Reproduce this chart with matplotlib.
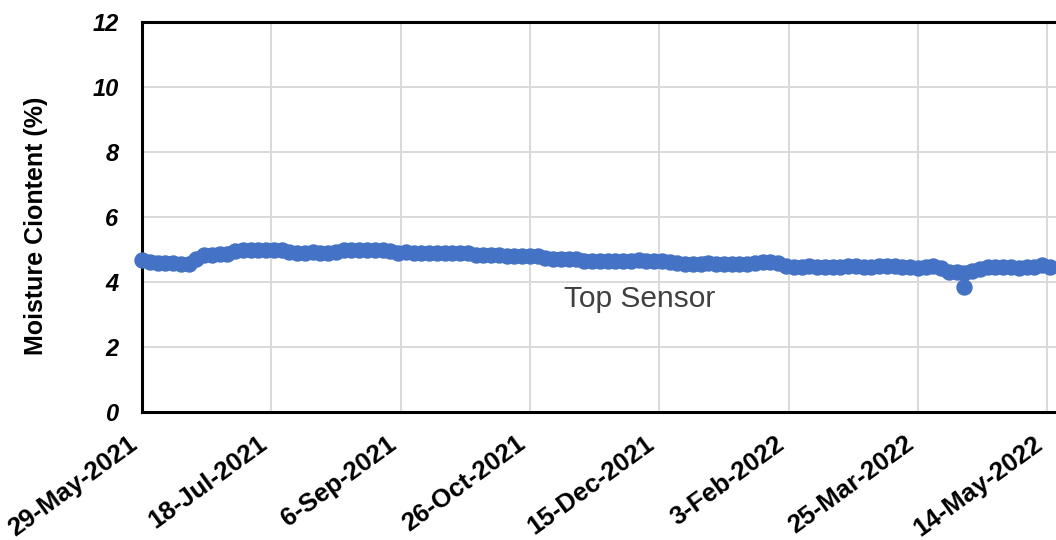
import matplotlib
matplotlib.use("Agg")
import matplotlib.pyplot as plt
import pandas as pd

plt.rcParams['font.family'] = ['Liberation Sans', 'DejaVu Sans']

# ---- data ----
start_date = "2021-05-29"
sample_step_days = 3
moisture = [
    4.68, 4.62, 4.60, 4.60, 4.58, 4.55, 4.55, 4.70, 4.82, 4.84,
    4.86, 4.87, 4.95, 4.98, 4.98, 5.00, 4.99, 5.00, 4.98, 4.92,
    4.90, 4.90, 4.91, 4.90, 4.90, 4.92, 4.97, 4.98, 4.99, 4.98,
    4.97, 4.98, 4.96, 4.90, 4.91, 4.90, 4.90, 4.90, 4.89, 4.90,
    4.90, 4.89, 4.88, 4.84, 4.83, 4.83, 4.82, 4.81, 4.80, 4.80,
    4.79, 4.80, 4.74, 4.72, 4.72, 4.71, 4.72, 4.66, 4.65, 4.65,
    4.65, 4.66, 4.65, 4.66, 4.67, 4.66, 4.65, 4.66, 4.62, 4.58,
    4.56, 4.55, 4.56, 4.60, 4.55, 4.55, 4.54, 4.55, 4.56, 4.58,
    4.62, 4.63, 4.58, 4.48, 4.47, 4.45, 4.50, 4.46, 4.45, 4.47,
    4.45, 4.50, 4.48, 4.47, 4.45, 4.50, 4.50, 4.48, 4.45, 4.45,
    4.44, 4.46, 4.50, 4.42, 4.30, 4.32, 4.28, 4.33, 4.40, 4.45,
    4.46, 4.45, 4.45, 4.44, 4.46, 4.45, 4.52, 4.46,
]
outlier_dates = ["2022-04-12"]
outlier_values = [3.86]
x_tick_dates = ["2021-05-29", "2021-07-18", "2021-09-06", "2021-10-26",
                "2021-12-15", "2022-02-03", "2022-03-25", "2022-05-14"]
x_tick_labels = ["29-May-2021", "18-Jul-2021", "6-Sep-2021", "26-Oct-2021",
                 "15-Dec-2021", "3-Feb-2022", "25-Mar-2022", "14-May-2022"]
y_ticks = [0, 2, 4, 6, 8, 10, 12]
series_label = "Top Sensor"
y_title = "Moisture Ciontent (%)"

dates = pd.date_range(start_date, periods=len(moisture), freq=f"{sample_step_days}D")

fig = plt.figure(figsize=(10.56, 5.40), dpi=100)
ax = fig.add_axes([142 / 1056, 1 - 412 / 540, 1 - 142 / 1056, (412 - 22) / 540])

blue = '#4472C4'
ax.plot(dates, moisture, '-', lw=9.5, color=blue, solid_capstyle='round',
        solid_joinstyle='round', clip_on=False, zorder=4)
ax.plot(dates, moisture, 'o', ms=10.8, color=blue, mec=blue,
        clip_on=False, zorder=4)
ax.plot(pd.to_datetime(outlier_dates), outlier_values, 'o', ms=10.8,
        color=blue, mec=blue, clip_on=False, zorder=4)

x0 = pd.Timestamp(start_date)
ax.set_xlim(x0, x0 + pd.Timedelta(days=353.4))
ax.set_ylim(0, 12)

ax.set_xticks(pd.to_datetime(x_tick_dates))
ax.set_xticklabels(x_tick_labels, rotation=36, ha='right', va='top',
                   rotation_mode='default', fontsize=18.5, fontweight='bold')
ax.set_yticks(y_ticks)
ax.set_yticklabels([str(v) for v in y_ticks], fontsize=17, fontweight='bold',
                   fontstyle='italic')
ax.tick_params(axis='both', length=0)
ax.tick_params(axis='x', pad=14)
ax.tick_params(axis='y', pad=17)

ax.grid(True, color='#D9D9D9', linewidth=1.4)
ax.set_axisbelow(True)
for s in ['left', 'bottom', 'top']:
    ax.spines[s].set_color('black')
    ax.spines[s].set_linewidth(2.2)
ax.spines['right'].set_visible(False)

ax.set_ylabel(y_title, fontsize=18, fontweight='bold')
ax.yaxis.set_label_coords(-(142 - 48) / 914, (412 - 226) / 390)

ax.text(x0 + pd.Timedelta(days=192.6), 3.48, series_label, ha='center',
        va='center', fontsize=21.5, color='#404040')

fig.savefig("out.png", dpi=100)
